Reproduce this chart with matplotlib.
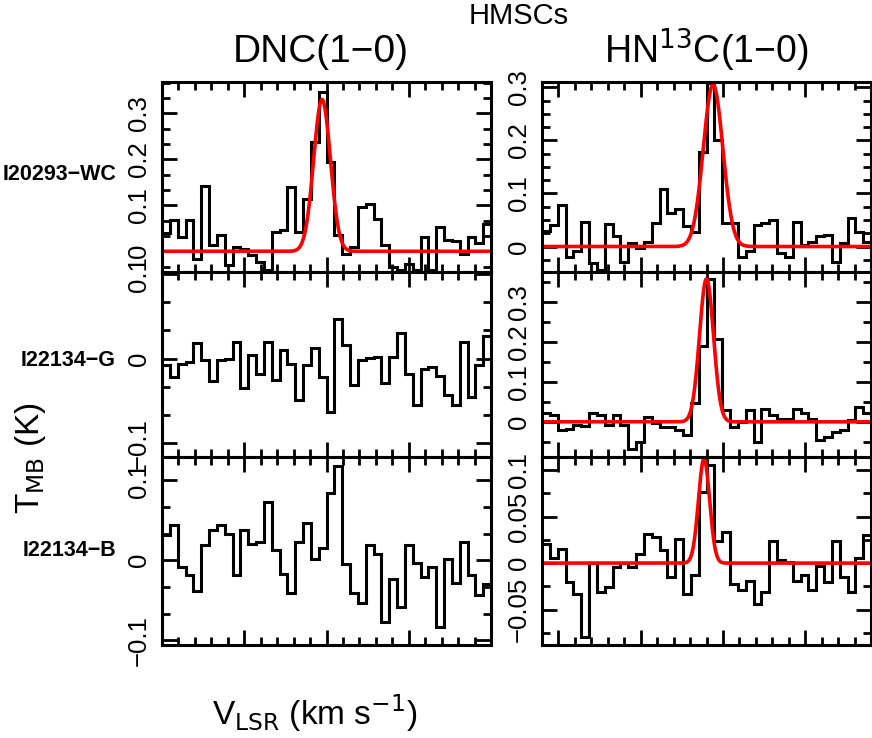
import numpy as np
import matplotlib
matplotlib.use("Agg")
import matplotlib.pyplot as plt
from matplotlib.ticker import MultipleLocator, FuncFormatter

plt.rcParams['font.family'] = ['Liberation Sans', 'DejaVu Sans']

# sources (rows) and lines (columns)
sources = ['I20293\u2212WC', 'I22134\u2212G', 'I22134\u2212B']
lines = ['DNC(1\u22120)', 'HN$^{13}$C(1\u22120)']

# brightness temperature per channel (K), 42 channels across each panel
dnc_wc = [0.040, 0.067, 0.031, 0.067, -0.016, 0.143, 0.013, 0.035, -0.030, 0.009,
          0.006, -0.008, -0.023, -0.041, 0.041, 0.046, 0.140, 0.041, 0.114, 0.238,
          0.346, 0.194, 0.035, -0.005, 0.010, 0.096, 0.103, 0.070, 0.013, -0.034,
          -0.041, -0.027, -0.041, 0.031, -0.041, 0.053, 0.024, 0.023, -0.005, 0.031,
          0.017, 0.060]
dnc_g = [-0.008, -0.022, -0.006, -0.004, 0.018, -0.002, -0.027, -0.002, -0.001, 0.020,
         -0.035, 0.004, -0.018, 0.020, -0.025, 0.010, -0.006, -0.049, -0.008, 0.012,
         -0.022, -0.063, 0.047, 0.016, -0.031, -0.002, 0.001, 0.002, -0.029, 0.002,
         0.030, -0.018, -0.055, -0.012, -0.010, -0.020, -0.043, -0.055, 0.020, -0.045,
         -0.008, 0.027]
dnc_b = [0.031, 0.044, -0.008, -0.019, -0.038, 0.019, 0.038, 0.044, 0.033, -0.019,
         0.038, 0.020, 0.023, 0.073, 0.013, -0.017, -0.041, 0.023, 0.047, 0.001,
         0.015, 0.084, 0.118, -0.005, -0.041, -0.054, 0.019, 0.008, -0.077, -0.024,
         -0.058, 0.019, -0.003, -0.021, -0.008, -0.083, 0.001, -0.029, 0.023, -0.019,
         -0.044, -0.030]
hn13c_wc = [0.030, 0.040, 0.078, -0.020, -0.009, 0.047, -0.031, -0.044, 0.043, 0.019,
            -0.030, 0.006, -0.003, 0.009, 0.044, 0.109, 0.063, 0.070, 0.038, 0.028,
            0.178, 0.309, 0.200, 0.045, 0.044, -0.020, -0.009, 0.040, 0.045, 0.050,
            -0.013, -0.019, 0.047, 0.003, 0.009, 0.019, 0.022, -0.030, 0.006, 0.053,
            0.028, 0.008]
hn13c_g = [0.021, 0.017, -0.021, -0.017, -0.008, -0.010, 0.021, 0.017, -0.008, 0.017,
           -0.008, -0.067, -0.050, 0.013, -0.004, -0.013, -0.014, -0.021, -0.033, 0.046,
           0.189, 0.358, 0.208, 0.030, -0.013, 0.000, 0.029, -0.050, 0.033, 0.017,
           0.008, 0.008, 0.033, 0.021, 0.008, -0.046, -0.038, -0.025, -0.021, 0.004,
           0.038, 0.021]
hn13c_b = [0.021, 0.006, 0.015, -0.020, -0.033, -0.079, 0.000, -0.031, -0.026, -0.004,
           0.000, -0.004, 0.010, 0.031, 0.028, 0.014, -0.015, 0.026, -0.033, -0.013,
           0.076, 0.105, 0.024, 0.033, -0.022, -0.029, -0.019, -0.044, -0.031, 0.024,
           0.003, 0.001, -0.019, -0.013, -0.029, -0.003, -0.020, 0.024, -0.015, -0.031,
           0.005, 0.030]

# gaussian fits: (peak K, centre km/s, FWHM km/s); None = no fit
fit_dnc = [(0.330, -0.27, 1.2), None, None]
fit_hn13c = [(0.305, -0.60, 1.4), (0.358, -1.0, 1.0), (0.112, -1.15, 0.8)]

spectra = [[dnc_wc, hn13c_wc], [dnc_g, hn13c_g], [dnc_b, hn13c_b]]
fits = [[fit_dnc[i], fit_hn13c[i]] for i in range(3)]

# axis setup per panel
xlims = [(-10, 10), (-11, 9)]
ylims = [[(-0.045, 0.368), (-0.048, 0.31)],
         [(-0.116, 0.102), (-0.088, 0.375)],
         [(-0.106, 0.129), (-0.088, 0.114)]]
ymajor = [[0.1, 0.1], [0.1, 0.1], [0.1, 0.05]]
yminor = [[0.1 / 3, 0.025], [0.1 / 3, 0.05], [0.1 / 3, 0.025]]

W, H = 872, 738
fig = plt.figure(figsize=(W / 100, H / 100), dpi=100)

col_left = [162, 542]
col_width = 329
row_top = [82, 272, 457]
row_bot = [272, 457, 645]
label_y = [174, 361, 550]

fmt = FuncFormatter(lambda v, p: ('%g' % round(v, 4)).replace('-', '\u2212'))

for r in range(3):
    for c in range(2):
        ax = fig.add_axes([col_left[c] / W, 1 - row_bot[r] / H,
                           col_width / W, (row_bot[r] - row_top[r]) / H])
        x0, x1 = xlims[c]
        vals = spectra[r][c]
        edges = np.linspace(x0, x1, len(vals) + 1)
        ax.stairs(vals, edges, baseline=None, color='black', lw=2.2)
        if fits[r][c] is not None:
            amp, v0, fw = fits[r][c]
            xx = np.linspace(x0, x1, 600)
            ax.plot(xx, amp * np.exp(-4 * np.log(2) * (xx - v0) ** 2 / fw ** 2),
                    color='red', lw=2.6)
        ax.set_xlim(x0, x1)
        ax.set_ylim(*ylims[r][c])
        ax.xaxis.set_major_locator(MultipleLocator(5))
        ax.xaxis.set_minor_locator(MultipleLocator(1))
        ax.yaxis.set_major_locator(MultipleLocator(ymajor[r][c]))
        ax.yaxis.set_minor_locator(MultipleLocator(yminor[r][c]))
        ax.yaxis.set_major_formatter(fmt)
        ax.tick_params(which='both', direction='in', top=True, right=True,
                       width=2.0, labelbottom=False)
        ax.tick_params(which='major', length=11)
        ax.tick_params(which='minor', length=6)
        ax.tick_params(axis='y', labelsize=18.5, labelrotation=90, pad=8)
        for lab in ax.get_yticklabels():
            lab.set_va('center')
        for s in ax.spines.values():
            s.set_linewidth(2.2)

for r, name in enumerate(sources):
    fig.text(116 / W, 1 - label_y[r] / H, name, ha='right', va='center',
             fontsize=15.5, fontweight='bold')

fig.text(519 / W, 1 - 16 / H, 'HMSCs', ha='center', va='center', fontsize=21)
fig.text(321 / W, 1 - 52 / H, lines[0], ha='center', va='center', fontsize=28)
fig.text(706 / W, 1 - 50 / H, lines[1], ha='center', va='center', fontsize=27)
fig.text(315 / W, 1 - 713 / H, 'V$_{\\rm LSR}$ (km s$^{-1}$)', ha='center',
         va='center', fontsize=24)
fig.text(30 / W, 1 - 458 / H, 'T$_{\\rm MB}$ (K)', ha='center', va='center',
         rotation=90, fontsize=24)

fig.savefig('out.png', dpi=100)
